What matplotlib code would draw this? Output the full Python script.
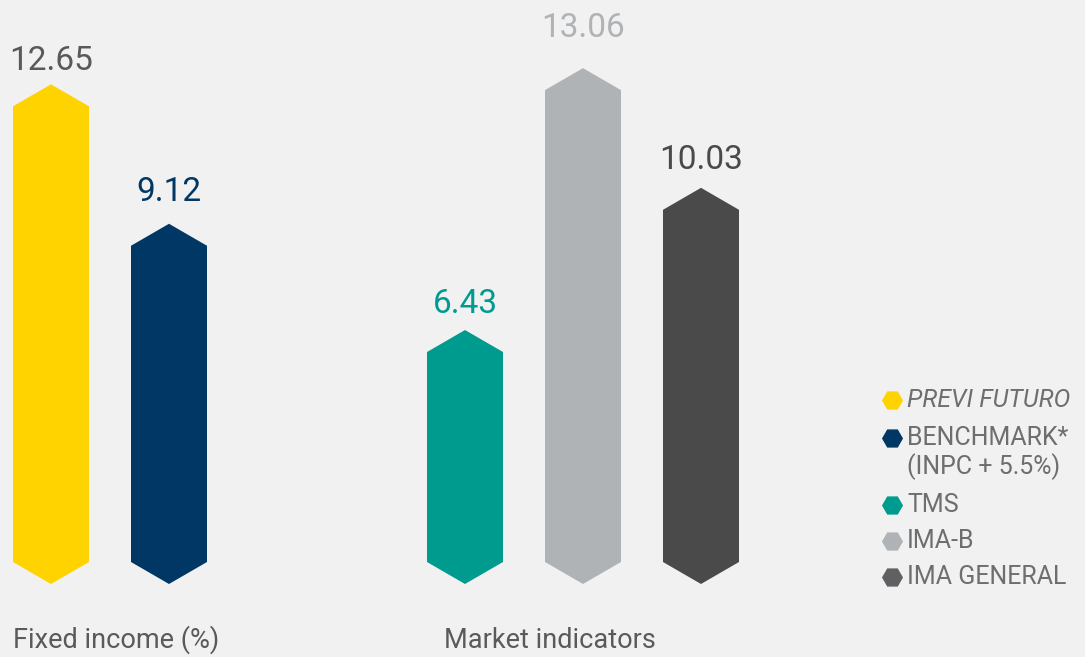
import matplotlib
matplotlib.use('Agg')
import matplotlib.pyplot as plt
from matplotlib.patches import Polygon

# data
groups = ['Fixed income (%)', 'Market indicators']
series = ['PREVI FUTURO', 'BENCHMARK*\n(INPC + 5.5%)', 'TMS', 'IMA-B', 'IMA GENERAL']
values = [12.65, 9.12, 6.43, 13.06, 10.03]
group_of = [0, 0, 1, 1, 1]
bar_colors = ['#FFD300', '#003764', '#009B8F', '#B0B3B5', '#4A4A4A']
label_colors = ['#58595B', '#003764', '#009B8F', '#B0B3B5', '#4A4A4A']
legend_colors = ['#FFD300', '#003764', '#009B8F', '#B0B3B5', '#606062']

plt.rcParams['font.family'] = ['Roboto', 'DejaVu Sans']

W, H = 1085, 657
px_per_unit = 39.5
base_px = 73  # bottom apex height from figure bottom

fig = plt.figure(figsize=(W / 100, H / 100), dpi=100)
fig.patch.set_facecolor('#F1F1F1')
ax = fig.add_axes([0, 0, 1, 1])
ax.set_facecolor('#F1F1F1')
y0 = -base_px / px_per_unit
ax.set_xlim(0, W)
ax.set_ylim(y0, y0 + H / px_per_unit)
ax.axis('off')

group_start = [51, 465]
step = 118
bw = 76
cap = 22 / px_per_unit
label_gap = [14, 23, 17, 31, 19]  # px between label baseline and bar tip

idx_in_group = [0, 0]
for v, g, bc, lc, gap in zip(values, group_of, bar_colors, label_colors, label_gap):
    x = group_start[g] + idx_in_group[g] * step
    idx_in_group[g] += 1
    pts = [(x - bw / 2, cap), (x, 0), (x + bw / 2, cap),
           (x + bw / 2, v - cap), (x, v), (x - bw / 2, v - cap)]
    ax.add_patch(Polygon(pts, closed=True, facecolor=bc, edgecolor='none'))
    ax.text(x, v + gap / px_per_unit, f'{v:.2f}', ha='center', va='baseline',
            fontsize=24, color=lc)

group_label_x = [13, 444]
for gx, name in zip(group_label_x, groups):
    ax.text(gx, y0 + 9 / px_per_unit, name, ha='left',
            va='baseline', fontsize=19.5, color='#5A5A5A')

# legend
leg_y = [400, 438, 505, 541, 577]
for name, c, yy in zip(series, legend_colors, leg_y):
    yd = y0 + (H - yy) / px_per_unit
    ax.plot([892], [yd], marker='H', markersize=14, color=c, linestyle='none')
    lines = name.split('\n')
    for k, ln in enumerate(lines):
        ax.text(907, yd - k * 29 / px_per_unit, ln, ha='left', va='center',
                fontsize=18, color='#6D6E70',
                style='italic' if name == 'PREVI FUTURO' else 'normal')

fig.savefig('out.png', dpi=100, facecolor=fig.get_facecolor())
